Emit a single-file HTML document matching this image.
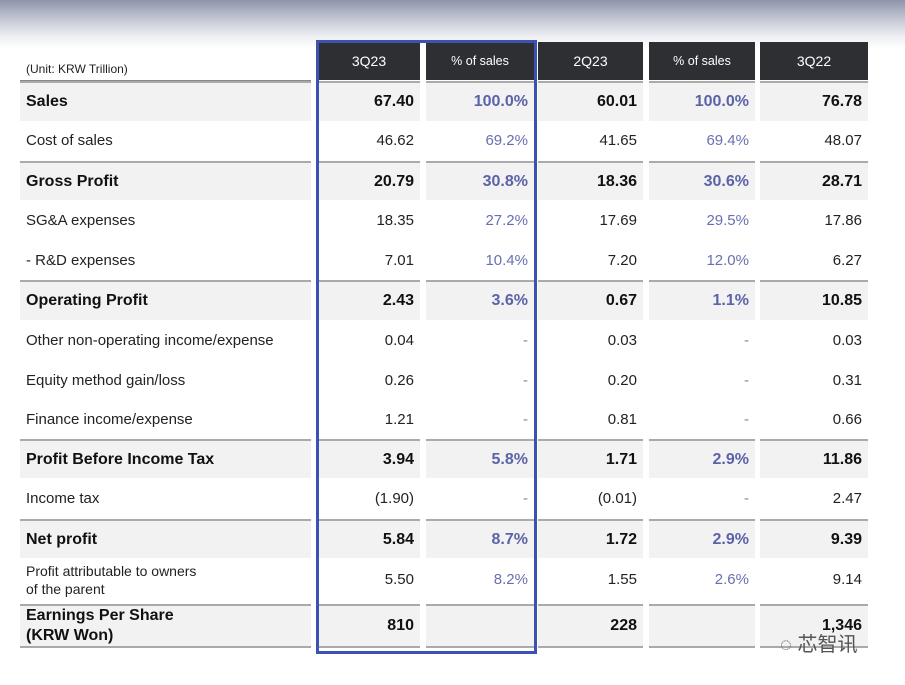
<!DOCTYPE html>
<html><head><meta charset="utf-8">
<style>
body{margin:0;width:905px;height:685px;overflow:hidden;background:#fff;font-family:"Liberation Sans","Noto Sans CJK SC",sans-serif;position:relative}
#bg{position:absolute;left:0;top:0;width:905px;height:48px;background:linear-gradient(#8e94aa 0%,#c4c8d4 40%,#eceef2 75%,#fff 100%)}
.c{position:absolute;box-sizing:border-box;display:flex;align-items:center;font-size:15px;color:#222}
.h{background:#2e2f33;color:#fff;justify-content:center;font-size:14px}
.g{background:#f2f2f2}
.b{font-weight:bold;font-size:16px;color:#111}
.r{justify-content:flex-end;padding-right:6px}
.p{color:#5b63a8}
.l{padding-left:6px}
</style></head><body>
<div id="bg"></div>
<div class="c l" style="left:20px;top:58px;width:291px;height:23px;font-size:12px;border-bottom:1px solid #888">(Unit: KRW Trillion)</div>
<div id="t"></div>
<div style="position:absolute;left:316px;top:40px;width:221px;height:614px;border:3px solid #3d52b0;box-sizing:border-box"></div>
<div style="position:absolute;left:780px;top:628px;font-size:20px;color:#555">◌ 芯智讯</div>
<script>
const cols=[[20,291],[318,102],[426,108],[538,105],[649,106],[760,108]];
const headers=["3Q23","% of sales","2Q23","% of sales","3Q22"];
const rows=[
["Sales","67.40","100.0%","60.01","100.0%","76.78",1,81,40],
["Cost of sales","46.62","69.2%","41.65","69.4%","48.07",0,121,39],
["Gross Profit","20.79","30.8%","18.36","30.6%","28.71",1,161,39],
["SG&A expenses","18.35","27.2%","17.69","29.5%","17.86",0,200,40],
[" - R&D expenses","7.01","10.4%","7.20","12.0%","6.27",0,240,40],
["Operating Profit","2.43","3.6%","0.67","1.1%","10.85",1,280,40],
["Other non-operating income/expense","0.04","-","0.03","-","0.03",0,320,40],
["Equity method gain/loss","0.26","-","0.20","-","0.31",0,360,40],
["Finance income/expense","1.21","-","0.81","-","0.66",0,400,38],
["Profit Before Income Tax","3.94","5.8%","1.71","2.9%","11.86",1,439,39],
["Income tax","(1.90)","-","(0.01)","-","2.47",0,478,40],
["Net profit","5.84","8.7%","1.72","2.9%","9.39",1,519,39],
["Profit attributable to owners<br>of the parent","5.50","8.2%","1.55","2.6%","9.14",0,558,45],
["Earnings Per Share<br>(KRW Won)","810","","228","","1,346",1,604,44]];
const T=document.getElementById('t');
headers.forEach((h,i)=>{const d=document.createElement('div');d.className='c h';
d.style.cssText=`left:${cols[i+1][0]}px;top:42px;width:${cols[i+1][1]}px;height:38px`;d.textContent=h;
if(i%2==1)d.style.fontSize='12.5px';


T.appendChild(d);});
rows.forEach(r=>{const bold=r[6],top=r[7],h=r[8];
for(let i=0;i<6;i++){const d=document.createElement('div');
let cls='c'+(bold?' g b':'')+(i==0?' l':' r')+((i==2||i==4)&&r[i]!=='-'?' p':'');
if(i==0&&!bold&&r[0].includes('<br>'))d.style.fontSize='14px';
d.className=cls;
d.style.left=cols[i][0]+'px';d.style.top=top+'px';d.style.width=cols[i][1]+'px';d.style.height=h+'px';
if(r[0].includes('<br>'))d.style.lineHeight='1.25';
if(bold)d.style.borderTop='2px solid #aaa';
if(r[7]==604)d.style.borderBottom='2px solid #aaa';
if(!bold&&(i==2||i==4)&&r[i]=='-')d.style.color='#888';
if(!bold&&(i==2||i==4)&&r[i]!='-')d.style.color='#6670b0';
d.innerHTML=r[i];


T.appendChild(d);}});
</script>
</body></html>
